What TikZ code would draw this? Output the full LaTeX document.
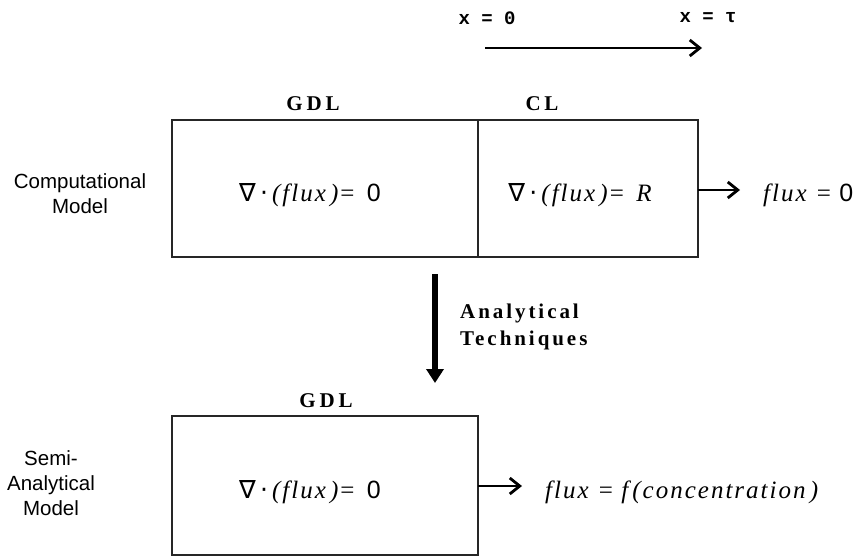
\documentclass[tikz,border=0pt]{standalone}
\usepackage{fontspec}
\setmainfont{Liberation Serif}
\newfontfamily\labfont[LetterSpace=18]{Liberation Serif}
\newfontfamily\techfont[LetterSpace=14]{Liberation Serif}
\newfontfamily\eqfont[LetterSpace=8]{Liberation Serif}
\newfontfamily\sansf{Liberation Sans}
\newfontfamily\monof{Liberation Mono}
\newfontfamily\symf{DejaVu Sans}
\usetikzlibrary{arrows.meta}
\newcommand{\eqdiv}[1]{{\symf ∇}\,{\symf ·}\,\textit{(flux\,)}= \,#1}
\begin{document}
\begin{tikzpicture}[x=1pt,y=-1pt,
  boxst/.style={draw=black!85,line width=1.8pt,inner sep=0pt,outer sep=0pt,minimum height=137pt},
  eqst/.style={inner sep=0pt,font=\fontsize{25}{28}\selectfont\eqfont},
  labst/.style={inner sep=0pt,font=\fontsize{21}{24}\selectfont\labfont\bfseries},
  sidest/.style={inner sep=0pt,align=center,font=\fontsize{20.5}{25}\selectfont\sansf},
  xst/.style={inner sep=0pt,font=\fontsize{19}{21}\selectfont\monof\bfseries},
  barb/.style={line width=2.8pt,-{Straight Barb[length=10pt,width=16pt,line width=2.8pt]}},
  bigarr/.style={line width=5.5pt,-{Triangle[length=14pt,width=17pt]}}
]
\useasboundingbox (0,0) rectangle (856,558);
% top axis
\node[xst] (x0) at (487,18) {x = 0};
\node[xst] (xt) at (708,18) {x = τ};
\coordinate (xa) at (485,48);
\coordinate (xb) at (702,48);
\draw[barb] (xa) -- (xb);
% computational model boxes
\node[boxst,minimum width=306pt] (gdl) at (325,188.5) {};
\node[boxst,minimum width=220pt] (cl) at (588,188.5) {};
\node[labst] (gdllab) at (313,104) {GDL};
\node[labst] (cllab) at (542,104) {CL};
\node[sidest] (comp) at (80,194) {Computational\\Model};
\node[eqst] (eq1) at (310,195) {\eqdiv{{\sansf 0}}};
\node[eqst] (eq2) at (581,195) {\eqdiv{\textit{R}}};
\node[eqst,anchor=west] (bc1) at (763,195) {\textit{flux} = {\sansf 0}};
\draw[barb] (cl.east |- 0,190) -- (740,190) coordinate (bc1arr);
% down arrow
\coordinate (da) at (435,274);
\coordinate (db) at (435,383);
\draw[bigarr] (da) -- (db);
\node[inner sep=0pt,align=left,anchor=west,font=\fontsize{21}{27}\selectfont\techfont\bfseries] (tech) at (460,327) {Analytical\\Techniques};
% semi-analytical model
\node[boxst,minimum width=306pt,minimum height=139pt] (gdl2) at (325,485.5) {};
\node[labst] (gdl2lab) at (326,401) {GDL};
\node[sidest] (semi) at (51,483) {Semi-\\Analytical\\Model};
\node[eqst] (eq3) at (310,492) {\eqdiv{{\sansf 0}}};
\node[eqst,anchor=west] (bc2) at (545,492) {\textit{flux} = \textit{f\,(concentration\,)}};
\draw[barb] (gdl2.east |- 0,486) -- (522,486) coordinate (bc2arr);
\end{tikzpicture}
\end{document}
